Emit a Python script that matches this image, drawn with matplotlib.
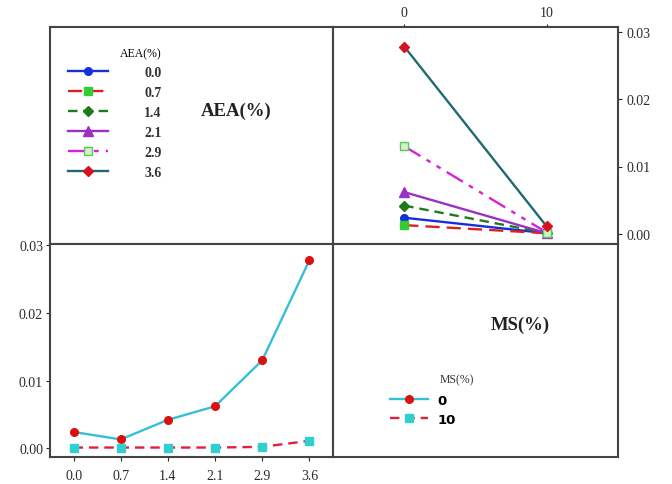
import matplotlib
matplotlib.use('Agg')
import matplotlib.pyplot as plt

plt.rcParams['font.family'] = ['Liberation Serif', 'DejaVu Serif']

# ---- data ----
aea_levels = ['0.0', '0.7', '1.4', '2.1', '2.9', '3.6']
ms_levels = ['0', '10']
ms0_values = [0.0024, 0.0013, 0.0042, 0.0062, 0.0130, 0.0278]
ms10_values = [0.0001, 0.0001, 0.0001, 0.0001, 0.0002, 0.0011]
yticks = [0.00, 0.01, 0.02, 0.03]
ytick_labels = ['0.00', '0.01', '0.02', '0.03']

# styles per AEA level (line colour, linestyle, marker, marker face, marker edge, size)
aea_styles = [
    ('#1530d8', '-', 'o', '#1530d8', '#1530d8', 5.5),
    ('#e02020', (0, (6, 3)), 's', '#33cc33', '#33cc33', 5.5),
    ('#1d7a1d', (0, (4, 2.5)), 'D', '#1d7a1d', '#1d7a1d', 5.5),
    ('#9a30c8', '-', '^', '#9a30c8', '#9a30c8', 6.5),
    ('#d820d8', (0, (8, 3, 2, 3, 2, 3)), 's', '#d8f0c8', '#55cc55', 5.5),
    ('#1f6a72', '-', 'D', '#d81020', '#d81020', 5.5),
]
ms_styles = [
    ('#35c0d8', '-', 'o', '#dd1010', '#dd1010'),
    ('#e0203a', (0, (4, 2.5)), 's', '#30d0d0', '#30d0d0'),
]

W, H = 672, 485
fig = plt.figure(figsize=(W / 100, H / 100), dpi=100)


def ax_px(x0, y0, x1, y1):
    return fig.add_axes([x0 / W, 1 - y1 / H, (x1 - x0) / W, (y1 - y0) / H])


ax_tl = ax_px(50, 28, 333, 245)
ax_tr = ax_px(333, 28, 618, 245)
ax_bl = ax_px(50, 245, 333, 458)
ax_br = ax_px(333, 245, 618, 458)

for ax in (ax_tl, ax_tr, ax_bl, ax_br):
    for s in ax.spines.values():
        s.set_color('#444444')
        s.set_linewidth(1.5)
    ax.set_facecolor('white')

for ax in (ax_tl, ax_br):
    ax.set_xticks([])
    ax.set_yticks([])

# ---- top-right: response vs MS, one line per AEA level ----
xpos_ms = list(range(len(ms_levels)))
for i, lev in enumerate(aea_levels):
    c, ls, mk, mfc, mec, msz = aea_styles[i]
    ax_tr.plot(xpos_ms, [ms0_values[i], ms10_values[i]], color=c, ls=ls, lw=1.7,
               marker=mk, mfc=mfc, mec=mec, ms=msz, label=lev)
ax_tr.set_xlim(-0.5, 1.5)
ax_tr.set_ylim(-0.0015, 0.0307)
ax_tr.set_xticks(xpos_ms)
ax_tr.set_xticklabels(ms_levels)
ax_tr.xaxis.tick_top()
ax_tr.yaxis.tick_right()
ax_tr.set_yticks(yticks)
ax_tr.set_yticklabels(ytick_labels)
ax_tr.tick_params(axis='x', length=2, pad=4, labelsize=10, colors='#2a2a2a')
ax_tr.tick_params(axis='y', length=3, pad=3, labelsize=10, colors='#2a2a2a')

# ---- bottom-left: response vs AEA, one line per MS level ----
xpos_aea = list(range(len(aea_levels)))
for vals, lev, st in zip([ms0_values, ms10_values], ms_levels, ms_styles):
    c, ls, mk, mfc, mec = st
    ax_bl.plot(xpos_aea, vals, color=c, ls=ls, lw=1.7, marker=mk, mfc=mfc, mec=mec,
               ms=5.5, label=lev)
ax_bl.set_xlim(-0.5, 5.5)
ax_bl.set_ylim(-0.0013, 0.0302)
ax_bl.set_xticks(xpos_aea)
ax_bl.set_xticklabels(aea_levels)
ax_bl.set_yticks(yticks)
ax_bl.set_yticklabels(ytick_labels)
ax_bl.tick_params(axis='x', length=3, pad=6, labelsize=10, colors='#2a2a2a')
ax_bl.tick_params(axis='y', length=3, pad=2, labelsize=10, colors='#2a2a2a')

# ---- diagonal labels ----
fig.text(236 / W, 1 - 111 / H, 'AEA(%)', ha='center', va='center',
         fontsize=13.5, fontweight='bold', color='#222222')
fig.text(520 / W, 1 - 325 / H, 'MS(%)', ha='center', va='center',
         fontsize=13.5, fontweight='bold', color='#222222')

# ---- legends ----
h_tr, l_tr = ax_tr.get_legend_handles_labels()
leg1 = fig.legend(h_tr, l_tr, title='AEA(%)', loc='upper left',
                  bbox_to_anchor=(68 / W, 1 - 48 / H), frameon=False,
                  borderpad=0, borderaxespad=0, handlelength=2.9,
                  handletextpad=2.6, labelspacing=0.5, fontsize=10,
                  title_fontsize=8.5, alignment='right')
for t in leg1.get_texts():
    t.set_fontweight('bold')
    t.set_color('#333333')

h_bl, l_bl = ax_bl.get_legend_handles_labels()
leg2 = fig.legend(h_bl, l_bl, loc='upper left', bbox_to_anchor=(390 / W, 1 - 395 / H),
                  frameon=False, borderpad=0, borderaxespad=0, handlelength=2.9,
                  handletextpad=0.7, labelspacing=0.45,
                  prop={'family': 'DejaVu Sans', 'weight': 'bold', 'size': 9.5})
fig.text(440 / W, 1 - 380 / H, 'MS(%)', ha='left', va='center', fontsize=8.5,
         color='#333333')

fig.savefig('out.png', dpi=100)
